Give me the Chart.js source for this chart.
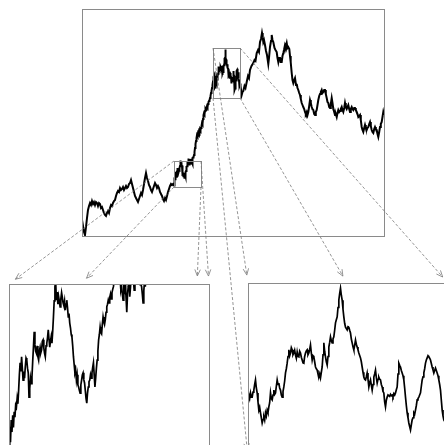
<!DOCTYPE html>
<html>
<head>
<meta charset="utf-8">
<script src="https://cdn.jsdelivr.net/npm/chart.js@4.4.1/dist/chart.umd.min.js"></script>
<style>
  html, body { margin: 0; padding: 0; background: #fff; overflow: hidden; }
  #stage { position: relative; width: 444px; height: 445px; overflow: hidden; }
  #stage canvas { position: absolute; }
</style>
</head>
<body>
<div id="stage">
  <canvas id="mainChart" width="444" height="445" style="left:0px;top:0px"></canvas>
  <canvas id="zoomLeftChart" width="202" height="177" style="left:8px;top:283px"></canvas>
  <canvas id="zoomRightChart" width="202" height="177" style="left:247px;top:282px"></canvas>
</div>
<script>
/* =========================================
   Series (x = step, y = level)
   ========================================= */
// x = 0 .. 91, one step each
var riseY = [16,10,4,1,9,18,26,30,33,31,35,32,34,31,34,33,30,33,32,28,
  29,26,23,21,20,23,25,23,28,31,30,33,35,36,40,43,45,44,48,46,
  47,49,46,48,50,48,49,52,53,56,52,48,44,40,38,36,34,37,40,43,
  41,46,52,58,63,58,55,51,49,46,44,47,50,53,51,48,50,48,44,42,
  40,37,35,38,36,40,44,47,50,52,51,52];

// first zoomed stretch, x = 92.0 .. 111.0 every 0.1
var zoomLeftStart = 92, zoomLeftStep = 0.1;
var zoomLeftY = [50.5,53.8,51.5,54.8,53.0,55.5,53.7,56.0,55.2,57.0,
  56.7,58.0,57.2,59.2,61.5,63.3,62.0,64.2,62.5,60.7,
  62.0,61.0,62.7,64.0,63.7,62.5,61.8,58.2,59.5,61.0,
  60.2,61.2,63.5,65.6,67.9,66.0,65.0,64.7,65.8,64.2,
  63.7,65.0,65.6,64.8,65.2,66.5,66.7,65.5,64.7,64.2,
  65.8,66.2,67.0,68.2,66.8,65.6,66.5,67.2,66.2,68.0,
  70.1,72.5,74.6,75.4,72.6,73.8,72.0,73.1,72.4,71.6,
  72.8,73.7,73.0,72.2,71.8,72.5,71.1,72.0,72.6,71.5,
  70.1,70.6,69.2,68.5,67.5,67.1,65.8,64.2,63.0,61.8,
  62.2,60.7,61.5,60.0,59.7,59.2,58.8,60.0,60.7,61.5,
  61.8,60.8,60.3,59.2,58.0,57.3,58.8,59.7,60.5,60.7,
  61.5,61.0,61.8,62.6,63.3,61.5,59.7,61.0,62.5,63.7,
  65.0,66.7,67.5,68.6,67.8,67.6,69.0,70.1,69.4,69.0,
  69.7,70.8,71.6,72.0,72.6,72.2,73.0,73.5,72.8,73.7,
  74.2,74.6,75.5,76.2,77.0,76.0,77.5,76.5,75.0,76.8,
  75.8,74.1,74.6,73.5,72.6,74.5,74.1,76.0,73.0,70.8,
  73.5,74.6,76.3,73.1,74.5,76.0,75.1,77.0,75.5,74.1,
  74.8,75.8,76.5,75.2,77.2,76.4,76.0,74.9,75.0,74.6,
  73.5,72.2,74.0,75.5,74.6,76.5,75.3,76.8,77.5,78.0,
  78.5];

// steep climb between the two windows, x = 111.5 .. 130.5 every 0.5
var climbStart = 111.5, climbStep = 0.5;
var climbY = [79,81,84,88,92,95,98,101,100,103,102,105,104,107,106,108,
  110,113,112,117,121,123,122,125,127,126,128,130,129,132,134,135,136,
  138,140,143,145,148,151];

// second zoomed stretch, x = 131 .. 158 evenly spaced
var zoomRightStart = 131, zoomRightEnd = 158;
var zoomRightY = [154.6,156.0,155.0,156.6,155.4,155.4,156.8,157.4,159.0,160.3,
  158.0,156.6,154.0,151.7,152.5,150.9,149.5,148.0,149.0,149.7,
  148.8,150.9,150.0,151.7,151.0,152.6,153.8,156.6,155.0,154.6,
  156.0,157.4,156.2,156.6,158.5,160.3,159.0,159.4,158.0,157.4,
  156.0,155.4,157.0,158.3,160.0,162.3,163.5,165.1,167.0,168.9,
  167.2,168.0,169.5,168.9,167.5,168.0,168.8,167.4,166.5,168.3,
  167.0,166.9,168.5,168.0,166.8,166.0,165.2,165.1,167.0,168.0,
  168.6,168.9,167.5,168.0,169.0,170.3,168.0,166.0,167.2,166.9,
  165.5,164.0,163.5,163.1,162.0,161.1,162.0,160.9,162.5,164.0,
  167.5,170.9,168.5,166.9,165.5,164.6,167.0,169.7,171.0,172.6,
  171.5,170.9,172.0,172.6,174.5,176.6,177.5,178.3,181.0,183.1,
  185.0,186.5,184.5,183.1,180.5,178.3,176.5,175.4,175.0,174.6,
  175.5,175.4,174.5,173.7,172.0,170.9,169.8,168.9,170.2,171.7,
  170.5,169.7,168.9,168.0,167.3,166.6,165.5,164.0,162.5,161.1,
  160.5,160.3,161.2,162.3,160.5,158.3,159.5,160.3,158.8,157.4,
  159.0,161.1,162.0,163.1,161.0,159.4,160.5,161.1,160.5,160.3,
  159.0,158.3,157.0,156.6,154.0,152.6,154.5,155.4,156.0,156.0,
  155.6,156.2,155.8,156.0,155.5,156.4,156.0,156.6,157.5,158.3,
  162.0,165.1,164.5,164.0,163.0,162.3,161.5,160.3,158.0,155.4,
  153.0,150.9,149.5,148.0,147.0,146.0,147.5,148.9,149.5,150.9,
  150.5,151.7,153.0,154.6,155.0,155.4,156.0,156.6,158.5,160.3,
  161.2,162.3,163.5,165.1,166.0,166.6,167.2,166.9,166.5,166.0,
  165.0,164.0,163.2,162.3,163.0,163.7,163.0,162.3,161.5,160.3,
  159.0,157.4,154.5,151.7,150.0,148.9,148.5,148.0,149.5,151.0,
  152.5];

// the rest of the walk
var tailX = [158.5,159.7,160.5,161.3,162.5,163.5,164.7,166,167,168,
  169.5,171.3,172.5,173.5,174.7,176,177,178,179,180,
  180.7,181.3,182,183,184,185,186.3,187,188,189,
  189.7,190.5,191.3,192.5,193.5,194.7,195.5,196.3,197,198,
  198.7,199.7,200.5,201.3,202,203,203.7,204.7,205.5,206.3,
  207.3,208,208.7,209.7,210.5,211.3,212.2,213,214,214.7,
  215.5,216.3,217.2,218,218.8,219.7,220.5,221.3,222.2,223,
  223.8,224.7,225.5,226.3,227.2,228,228.8,229.7,230.5,231.3,
  232.2,233,233.8,234.7,235.5,236.3,237.2,238,238.8,239.7,
  240.5,241.3,242.2,243,243.8,244.7,245.5,246.3,247.2,248,
  248.8,249.7,250.5,251.3,252.2,253,253.8,254.7,255.5,256.3,
  257.2,258,258.8,259.7,260.5,261.3,262.2,263,263.8,264.7,
  265.5,266.3,267.2,268,268.8,269.7,270.5,271.3,272.2,273,
  273.8,274.7,275.5,276.3,277.2,278,278.8,279.7,280.5,281.3,
  282.2,283,283.8,284.7,285.5,286.3,287.2,288,288.8,289.7,
  290.5,291.3,292.2,293,293.8,294.7,295.5,296.3,297.2,298,
  298.8,299.7,300.5,301.3,302];
var tailY = [150,141,144,145,150,148,154,160,158,166,
  170,173,176,175,183,186,184,194,197,203,
  199,194,196,191,185,181,172,178,189,195,
  201,196,194,188,186,184,178,174,178,178,
  174,174,180,183,186,191,189,193,188,189,
  187,180,174,163,156,153,156,158,151,152,
  148,146,143,141,137,133,131,129,127,124,
  122,124,121,124,130,136,133,129,127,126,
  122,121,124,126,131,136,140,142,144,146,
  143,144,146,146,142,138,134,133,129,128,
  132,138,133,127,124,121,122,119,123,126,
  124,125,127,129,126,124,128,133,129,127,
  129,131,127,124,127,129,127,126,128,128,
  126,124,122,119,120,121,116,109,106,104,
  108,111,108,106,108,109,112,114,110,106,
  104,103,107,109,107,106,102,99,104,109,
  112,114,119,124,121];

// axes of the big panel and the two zoom windows [xmin, xmax, ymin, ymax]
var mainBox = [0, 302, 0, 227];
var zoomLeftBox = [92, 119, 49, 75];
var zoomRightBox = [131, 158, 138, 188];

// where the arrows from the window corners (TL, TR, BL, BR) aim, as fractions of each inset
var zoomLeftAim = [[0, 1], [1, 1], [0.36, 1], [0.94, 1]];
var zoomRightAim = [[0, 1], [1, 1], [0, 0], [1, 0]];

/* =========================================
   Build one point list from the pieces
   ========================================= */
function stepped(start, step, ys) {
    return ys.map(function(y, i) {
        return { x: +(start + i * step).toFixed(4), y: y };
    });
}

var walk = [].concat(
    stepped(0, 1, riseY),
    stepped(zoomLeftStart, zoomLeftStep, zoomLeftY),
    stepped(climbStart, climbStep, climbY),
    stepped(zoomRightStart, (zoomRightEnd - zoomRightStart) / (zoomRightY.length - 1), zoomRightY),
    tailX.map(function(x, i) { return { x: x, y: tailY[i] }; })
);

var frameColor = '#8a8a8a';

// grey frame round the plot area
var framePlugin = {
    id: 'frame',
    afterDraw: function(chart) {
        var a = chart.chartArea, ctx = chart.ctx;
        ctx.save();
        ctx.strokeStyle = frameColor;
        ctx.lineWidth = 1;
        ctx.strokeRect(Math.round(a.left) + 0.5, Math.round(a.top) + 0.5,
            Math.round(a.right - a.left), Math.round(a.bottom - a.top));
        ctx.restore();
    }
};

function makeChart(id, box, pad, width) {
    return new Chart(document.getElementById(id).getContext('2d'), {
        type: 'line',
        data: {
            datasets: [{
                data: walk,
                borderColor: '#000',
                borderWidth: width,
                pointRadius: 0,
                tension: 0,
                fill: false
            }]
        },
        options: {
            responsive: false,
            animation: false,
            events: [],
            layout: { padding: pad },
            plugins: { legend: { display: false }, tooltip: { enabled: false } },
            scales: {
                x: { type: 'linear', display: false, min: box[0], max: box[1] },
                y: { type: 'linear', display: false, min: box[2], max: box[3] }
            }
        },
        plugins: [framePlugin]
    });
}

var zoomLeftChart = makeChart('zoomLeftChart', zoomLeftBox, 1, 1.7);
var zoomRightChart = makeChart('zoomRightChart', zoomRightBox, 1, 1.7);

/* =========================================
   Zoom windows and dashed arrows on the big panel
   ========================================= */
function insetRect(chart) {
    var a = chart.chartArea, c = chart.canvas;
    return {
        left: a.left + c.offsetLeft, right: a.right + c.offsetLeft,
        top: a.top + c.offsetTop, bottom: a.bottom + c.offsetTop
    };
}

// where the segment p -> q first enters rect r (Liang-Barsky)
function entry(p, q, r) {
    var dx = q.x - p.x, dy = q.y - p.y, t0 = 0, t1 = 1;
    var pp = [-dx, dx, -dy, dy];
    var qq = [p.x - r.left, r.right - p.x, p.y - r.top, r.bottom - p.y];
    for (var i = 0; i < 4; i++) {
        if (pp[i] === 0) continue;
        var t = qq[i] / pp[i];
        if (pp[i] < 0) t0 = Math.max(t0, t); else t1 = Math.min(t1, t);
    }
    return t0 <= t1 ? t0 : 1;
}

function arrow(ctx, p, q) {
    var ang = Math.atan2(q.y - p.y, q.x - p.x), len = 7, spread = 0.4;
    ctx.setLineDash([3, 2]);
    ctx.beginPath();
    ctx.moveTo(p.x, p.y);
    ctx.lineTo(q.x, q.y);
    ctx.stroke();
    ctx.setLineDash([]);
    ctx.beginPath();
    ctx.moveTo(q.x - len * Math.cos(ang - spread), q.y - len * Math.sin(ang - spread));
    ctx.lineTo(q.x, q.y);
    ctx.lineTo(q.x - len * Math.cos(ang + spread), q.y - len * Math.sin(ang + spread));
    ctx.stroke();
}

var zoomPlugin = {
    id: 'zoomMarks',
    afterDraw: function(chart) {
        var ctx = chart.ctx, xs = chart.scales.x, ys = chart.scales.y;
        [[zoomLeftBox, zoomLeftChart, zoomLeftAim], [zoomRightBox, zoomRightChart, zoomRightAim]].forEach(function(set) {
            var b = set[0], aim = set[2];
            var l = Math.round(xs.getPixelForValue(b[0])), r = Math.round(xs.getPixelForValue(b[1]));
            var t = Math.round(ys.getPixelForValue(b[3])), bt = Math.round(ys.getPixelForValue(b[2]));
            ctx.save();
            ctx.strokeStyle = frameColor;
            ctx.lineWidth = 1;
            ctx.strokeRect(l + 0.5, t + 0.5, r - l, bt - t);

            var ir = insetRect(set[1]);
            var from = [{x: l, y: t}, {x: r, y: t}, {x: l, y: bt}, {x: r, y: bt}];
            ctx.lineWidth = 0.8;
            ctx.strokeStyle = '#7a7a7a';
            for (var i = 0; i < 4; i++) {
                var p = from[i];
                var q = {
                    x: ir.left + aim[i][0] * (ir.right - ir.left),
                    y: ir.bottom - aim[i][1] * (ir.bottom - ir.top)
                };
                var k = entry(p, q, ir);
                var d = Math.hypot(q.x - p.x, q.y - p.y);
                k = Math.max(0, k - 8 / d);
                arrow(ctx, p, { x: p.x + (q.x - p.x) * k, y: p.y + (q.y - p.y) * k });
            }
            ctx.restore();
        });
    }
};

var mainChart = new Chart(document.getElementById('mainChart').getContext('2d'), {
    type: 'line',
    data: {
        datasets: [{
            data: walk,
            borderColor: '#000',
            borderWidth: 2,
            pointRadius: 0,
            tension: 0,
            fill: false
        }]
    },
    options: {
        responsive: false,
        animation: false,
        events: [],
        layout: { padding: { left: 82, top: 9, right: 60, bottom: 209 } },
        plugins: { legend: { display: false }, tooltip: { enabled: false } },
        scales: {
            x: { type: 'linear', display: false, min: mainBox[0], max: mainBox[1] },
            y: { type: 'linear', display: false, min: mainBox[2], max: mainBox[3] }
        }
    },
    plugins: [framePlugin, zoomPlugin]
});
</script>
</body>
</html>
